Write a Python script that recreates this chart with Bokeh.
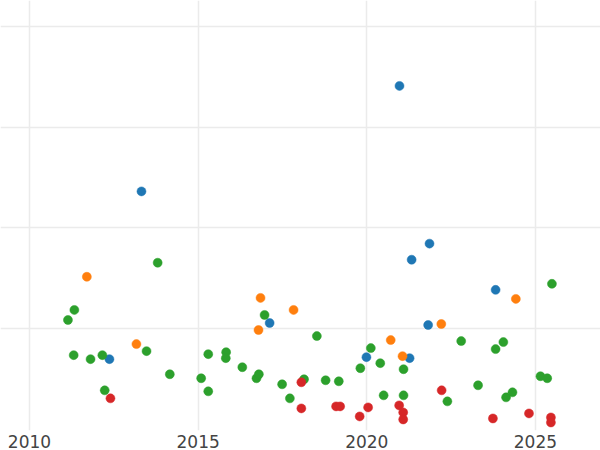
from bokeh.plotting import figure
from bokeh.models import FixedTicker, Range1d
from bokeh.embed import file_html
from bokeh.resources import INLINE

# ---- data ----
blue_x = [2012.37, 2013.32, 2017.12, 2019.99, 2020.97, 2021.27, 2021.33, 2021.82, 2021.86, 2023.82]
blue_y = [0.69, 2.36, 1.05, 0.71, 3.41, 0.70, 1.68, 1.03, 1.84, 1.38]

orange_x = [2011.70, 2013.17, 2016.79, 2016.85, 2017.83, 2020.71, 2021.06, 2022.21, 2024.42]
orange_y = [1.51, 0.84, 0.98, 1.30, 1.18, 0.88, 0.72, 1.04, 1.29]

green_x = [2011.14, 2011.31, 2011.33, 2011.81, 2012.16, 2012.23, 2013.47, 2013.80, 2014.16, 2015.09,
           2015.30, 2015.30, 2015.83, 2015.82, 2016.31, 2016.73, 2016.80, 2016.97, 2017.49, 2017.72,
           2018.14, 2018.52, 2018.78, 2019.17, 2019.81, 2020.12, 2020.40, 2020.50, 2021.09, 2021.09,
           2022.39, 2022.80, 2023.30, 2023.82, 2024.05, 2024.13, 2024.32, 2025.15, 2025.35, 2025.49]
green_y = [1.08, 0.73, 1.18, 0.69, 0.73, 0.38, 0.77, 1.65, 0.54, 0.50,
           0.74, 0.37, 0.76, 0.70, 0.61, 0.50, 0.54, 1.13, 0.44, 0.30,
           0.49, 0.92, 0.48, 0.47, 0.60, 0.80, 0.65, 0.33, 0.59, 0.33,
           0.27, 0.87, 0.43, 0.79, 0.86, 0.31, 0.36, 0.52, 0.50, 1.44]

red_x = [2012.40, 2018.06, 2018.06, 2019.09, 2019.21, 2019.79, 2020.04, 2020.96, 2021.08, 2021.08,
         2022.22, 2023.74, 2024.81, 2025.46, 2025.46]
red_y = [0.30, 0.46, 0.20, 0.22, 0.22, 0.12, 0.21, 0.23, 0.16, 0.09,
         0.38, 0.10, 0.15, 0.11, 0.06]

x_ticks = [2010, 2015, 2020, 2025]
x_tick_labels = ["2010", "2015", "2020", "2025"]
y_grid = [1, 2, 3, 4]

series = [
    (blue_x, blue_y, "#1f77b4"),
    (orange_x, orange_y, "#ff7f0e"),
    (green_x, green_y, "#2ca02c"),
    (red_x, red_y, "#d62728"),
]

p = figure(width=600, height=450, output_backend="svg", toolbar_location=None,
           x_range=Range1d(2009.14, 2026.93), y_range=Range1d(-0.02, 4.26),
           min_border_left=0, min_border_right=0, min_border_top=0, min_border_bottom=0)
p.outline_line_color = None
p.background_fill_color = "white"

for xs, ys, c in series:
    p.scatter(xs, ys, size=9, fill_color=c, line_color=c, line_width=0.5)

p.xaxis.ticker = FixedTicker(ticks=x_ticks)
p.xaxis.major_label_overrides = {t: l for t, l in zip(x_ticks, x_tick_labels)}
p.xaxis.axis_line_color = None
p.xaxis.major_tick_line_color = None
p.xaxis.minor_tick_line_color = None
p.xaxis.major_tick_out = 0
p.xaxis.major_label_standoff = 4
p.xaxis.major_label_text_font = "DejaVu Sans"
p.xaxis.major_label_text_font_size = "17px"
p.xaxis.major_label_text_color = "#444444"

p.yaxis.visible = False
p.ygrid.ticker = FixedTicker(ticks=y_grid)
p.xgrid.ticker = FixedTicker(ticks=x_ticks)
p.grid.grid_line_color = "#ebebeb"
p.grid.grid_line_width = 1.5

open("out.html", "w").write(file_html(p, INLINE))
